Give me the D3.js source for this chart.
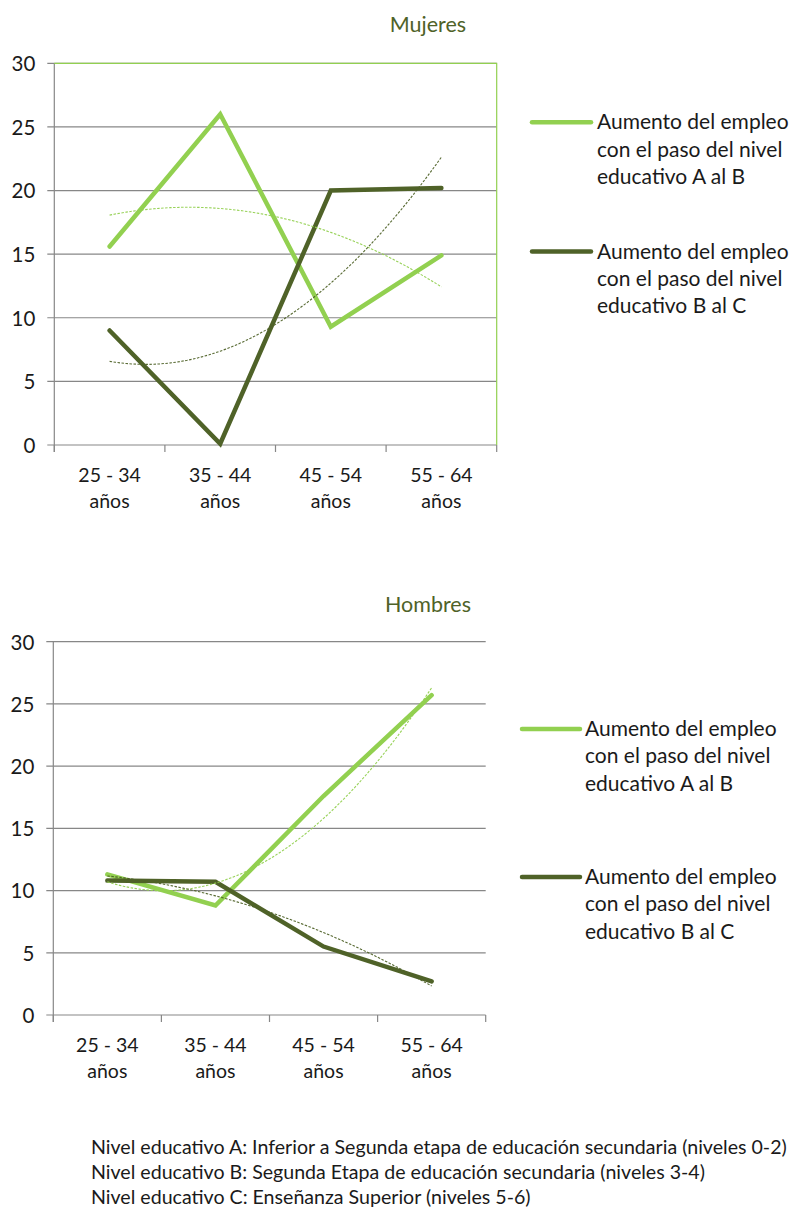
<!DOCTYPE html>
<html>
<head>
<meta charset="utf-8">
<script src="https://cdn.jsdelivr.net/npm/d3@7"></script>
<style>
  html, body { margin: 0; padding: 0; background: #fff; }
  svg { display: block; font-family: Lato, "Noto Sans", sans-serif; }
</style>
</head>
<body>
<svg id="chart" width="795" height="1208"></svg>
<script>
// ---------------- DATA ----------------
const categories = ["25 - 34 años", "35 - 44 años", "45 - 54 años", "55 - 64 años"];
const yTicks = [0, 5, 10, 15, 20, 25, 30];
const mujeresAB = [15.6, 26.0, 9.3, 14.9];
const mujeresBC = [9.0, 0.1, 20.0, 20.2];
const hombresAB = [11.3, 8.8, 17.6, 25.7];
const hombresBC = [10.8, 10.7, 5.5, 2.7];
const seriesLabels = [
  ["Aumento del empleo", "con el paso del nivel", "educativo A al B"],
  ["Aumento del empleo", "con el paso del nivel", "educativo B al C"]
];
const chartTitles = ["Mujeres", "Hombres"];
const footnotes = [
  "Nivel educativo A: Inferior a Segunda etapa de educación secundaria (niveles 0-2)",
  "Nivel educativo B: Segunda Etapa de educación secundaria (niveles 3-4)",
  "Nivel educativo C: Enseñanza Superior (niveles 5-6)"
];

// ---------------- STYLE ----------------
const LIGHT = "#92D050";
const DARK = "#4F6228";
const GRID = "#878787";
const TEXT = "#1a1a1a";

const svg = d3.select("#chart");

// quadratic least-squares fit (Excel polynomial trendline, order 2)
function quadFit(vals) {
  const xs = vals.map((_, i) => i + 1);
  let S = [0, 0, 0, 0, 0], T = [0, 0, 0];
  xs.forEach((x, i) => {
    for (let k = 0; k < 5; k++) S[k] += Math.pow(x, k);
    for (let k = 0; k < 3; k++) T[k] += Math.pow(x, k) * vals[i];
  });
  const A = [[S[0], S[1], S[2]], [S[1], S[2], S[3]], [S[2], S[3], S[4]]];
  const b = T.slice();
  for (let i = 0; i < 3; i++) {
    for (let j = i + 1; j < 3; j++) {
      const f = A[j][i] / A[i][i];
      for (let k = i; k < 3; k++) A[j][k] -= f * A[i][k];
      b[j] -= f * b[i];
    }
  }
  const c = [0, 0, 0];
  for (let i = 2; i >= 0; i--) {
    let s = b[i];
    for (let k = i + 1; k < 3; k++) s -= A[i][k] * c[k];
    c[i] = s / A[i][i];
  }
  return x => c[0] + c[1] * x + c[2] * x * x;
}

function drawChart(cfg) {
  const { left, right, top, bottom, title, titleX, titleY, ab, bc, frame, legend } = cfg;
  const g = svg.append("g");

  const xBand = d3.scaleBand().domain(categories).range([left, right]).padding(0);
  const xPoint = d3.scalePoint().domain(categories).range([left, right]).padding(0.5);
  const xIdx = d3.scaleLinear().domain([1, categories.length])
    .range([xPoint(categories[0]), xPoint(categories[categories.length - 1])]);
  const y = d3.scaleLinear().domain([0, 30]).range([bottom, top]);

  // gridlines
  g.append("g").selectAll("line").data(yTicks).join("line")
    .attr("x1", left - 7).attr("x2", right)
    .attr("y1", d => y(d)).attr("y2", d => y(d))
    .attr("stroke", GRID).attr("stroke-width", 1.2);

  // y axis line
  g.append("line").attr("x1", left).attr("x2", left).attr("y1", top).attr("y2", bottom + 7)
    .attr("stroke", GRID).attr("stroke-width", 1.2);

  // y axis labels
  const yAxis = d3.axisLeft(y).tickValues(yTicks).tickSize(0).tickPadding(0);
  const ya = g.append("g").attr("transform", `translate(${left - 19},0)`).call(yAxis);
  ya.select(".domain").remove();
  ya.selectAll("text").attr("font-size", 20.5).attr("fill", TEXT)
    .attr("font-family", "Lato, sans-serif").attr("dy", "0.36em");

  // x axis tick marks at boundaries
  const bounds = categories.map(c => xBand(c)).concat([right]);
  g.append("g").selectAll("line").data(bounds).join("line")
    .attr("x1", d => d).attr("x2", d => d).attr("y1", bottom).attr("y2", bottom + 7)
    .attr("stroke", GRID).attr("stroke-width", 1.2);

  // x labels
  const xl = g.append("g").selectAll("text").data(categories).join("text")
    .attr("x", d => xPoint(d)).attr("y", bottom + 37)
    .attr("text-anchor", "middle").attr("font-size", 19.5).attr("fill", TEXT);
  xl.append("tspan").attr("x", d => xPoint(d)).text(d => d.replace(/ años$/, ""));
  xl.append("tspan").attr("x", d => xPoint(d)).attr("dy", 26).text("años");

  // frame (top + right) for the first chart
  if (frame) {
    g.append("path")
      .attr("d", `M${left},${top}H${right}V${bottom}`)
      .attr("fill", "none").attr("stroke", LIGHT).attr("stroke-width", 1.2);
  }

  // series lines
  const line = d3.line().x((d, i) => xPoint(categories[i])).y(d => y(d));
  [[ab, LIGHT], [bc, DARK]].forEach(([vals, col]) => {
    g.append("path").datum(vals).attr("d", line)
      .attr("fill", "none").attr("stroke", col).attr("stroke-width", 4.5)
      .attr("stroke-linejoin", "miter").attr("stroke-linecap", "round");
  });

  // trendlines (polynomial order 2)
  [[ab, LIGHT], [bc, DARK]].forEach(([vals, col]) => {
    const f = quadFit(vals);
    const xsDense = d3.range(1, categories.length + 0.001, 0.05);
    const tl = d3.line().x(x => xIdx(x)).y(x => y(f(x)));
    g.append("path").datum(xsDense).attr("d", tl)
      .attr("fill", "none").attr("stroke", col).attr("stroke-width", 1.1)
      .attr("stroke-dasharray", "2.5,1.5").attr("opacity", 0.95);
  });

  // title
  g.append("text").attr("x", titleX).attr("y", titleY).attr("text-anchor", "middle")
    .attr("font-size", 21.5).attr("fill", DARK).text(title);

  // legend
  [[LIGHT, legend.y1], [DARK, legend.y2]].forEach(([col, ly], i) => {
    g.append("line").attr("x1", legend.x1).attr("x2", legend.x2).attr("y1", ly).attr("y2", ly)
      .attr("stroke", col).attr("stroke-width", 4.5).attr("stroke-linecap", "round");
    const t = g.append("text").attr("x", legend.tx).attr("y", ly + 7)
      .attr("font-size", 21).attr("fill", TEXT);
    seriesLabels[i].forEach((s, k) => {
      t.append("tspan").attr("x", legend.tx).attr("dy", k === 0 ? 0 : 27.3).text(s);
    });
  });
}

drawChart({
  left: 54.3, right: 496.7, top: 63.3, bottom: 445,
  title: chartTitles[0], titleX: 428, titleY: 32,
  ab: mujeresAB, bc: mujeresBC, frame: true,
  legend: { x1: 532, x2: 591, tx: 597, y1: 122.3, y2: 251.5 }
});

drawChart({
  left: 53.3, right: 485.7, top: 641.7, bottom: 1015,
  title: chartTitles[1], titleX: 428, titleY: 612,
  ab: hombresAB, bc: hombresBC, frame: false,
  legend: { x1: 522, x2: 580, tx: 585, y1: 729, y2: 877 }
});

// footnotes
svg.append("g").selectAll("text").data(footnotes).join("text")
  .attr("x", 91).attr("y", (d, i) => 1154 + i * 25)
  .attr("font-size", 19.6).attr("fill", TEXT).text(d => d);
</script>
</body>
</html>
